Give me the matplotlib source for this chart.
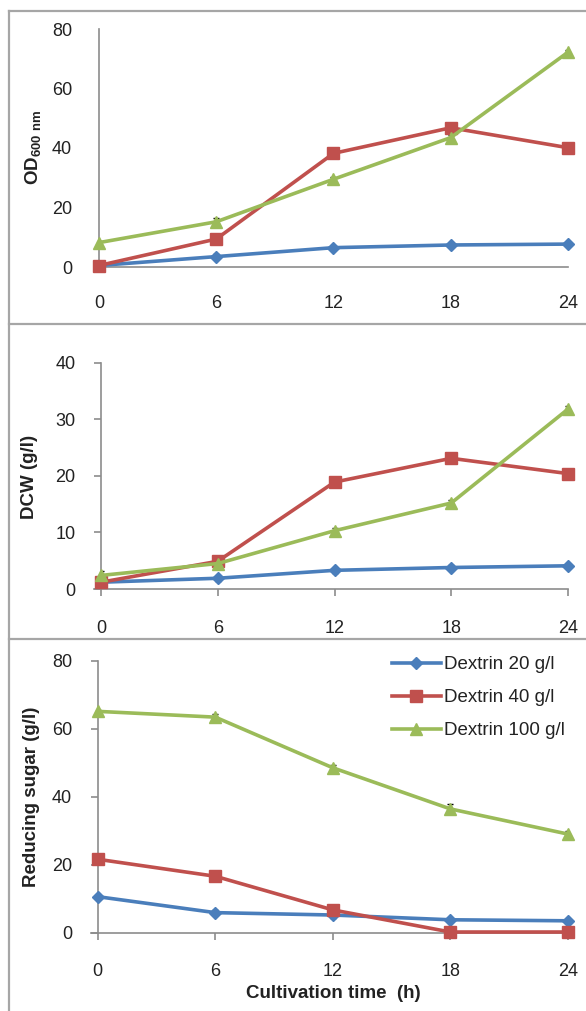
import matplotlib
matplotlib.use("Agg")
import matplotlib.pyplot as plt
from matplotlib.lines import Line2D

plt.rcParams['font.family'] = ['Liberation Sans', 'DejaVu Sans']
plt.rcParams['mathtext.fontset'] = 'custom'
plt.rcParams['mathtext.rm'] = 'Liberation Sans'
plt.rcParams['mathtext.bf'] = 'Liberation Sans:bold'

# ---------------- data ----------------
time_h = [0, 6, 12, 18, 24]
series_names = ["Dextrin 20 g/l", "Dextrin 40 g/l", "Dextrin 100 g/l"]

od_20 = [0.5, 3.5, 6.5, 7.4, 7.7]
od_40 = [0.5, 9.4, 38.2, 46.8, 40.1]
od_100 = [8.2, 15.2, 29.5, 43.5, 72.2]
od_err_20 = [0.3, 0.8, 0.5, 0.5, 0.5]
od_err_40 = [0.3, 0.8, 0.8, 0.8, 0.6]
od_err_100 = [0.5, 1.2, 0.8, 1.0, 0.8]

dcw_20 = [1.2, 1.9, 3.3, 3.8, 4.1]
dcw_40 = [1.2, 4.9, 18.9, 23.1, 20.4]
dcw_100 = [2.4, 4.5, 10.3, 15.2, 31.8]
dcw_err_20 = [0.2, 0.4, 0.4, 0.4, 0.4]
dcw_err_40 = [0.3, 0.4, 0.4, 0.4, 0.4]
dcw_err_100 = [0.7, 0.4, 0.5, 0.6, 0.6]

sugar_20 = [10.6, 5.9, 5.2, 3.8, 3.5]
sugar_40 = [21.6, 16.6, 6.7, 0.2, 0.2]
sugar_100 = [65.1, 63.4, 48.5, 36.4, 29.0]
sugar_err_20 = [0.4, 0.8, 0.8, 0.5, 0.5]
sugar_err_40 = [0.4, 0.8, 0.8, 0.3, 0.3]
sugar_err_100 = [0.5, 0.8, 0.8, 1.6, 0.8]

x_ticks = [0, 6, 12, 18, 24]
od_ticks = [0, 20, 40, 60, 80]
dcw_ticks = [0, 10, 20, 30, 40]
sugar_ticks = [0, 20, 40, 60, 80]

colors = ["#4A7EBB", "#C0504D", "#9BBB59"]
markers = ["D", "s", "^"]
msizes = [6, 8, 9]

W, H = 586, 1011
fig = plt.figure(figsize=(W / 100, H / 100), dpi=100)

def fx(px):
    return px / W

def fy(py):
    return 1 - py / H

def make_axes(left, right, y_top, y_bot):
    return fig.add_axes([fx(left), fy(y_bot), fx(right) - fx(left), fy(y_top) - fy(y_bot)])

ax1 = make_axes(99, 568, 29, 267)
ax2 = make_axes(101, 568, 362.7, 589)
ax3 = make_axes(97.7, 568, 660.7, 932.7)

panels = [
    (ax1, [od_20, od_40, od_100], [od_err_20, od_err_40, od_err_100], od_ticks, False),
    (ax2, [dcw_20, dcw_40, dcw_100], [dcw_err_20, dcw_err_40, dcw_err_100], dcw_ticks, True),
    (ax3, [sugar_20, sugar_40, sugar_100], [sugar_err_20, sugar_err_40, sugar_err_100], sugar_ticks, True),
]

spine_col = "#8C8C8C"
text_col = "#222222"
fs = 13

for ax, ys, errs, yt, ticks in panels:
    for y, e, c, m, ms, name in zip(ys, errs, colors, markers, msizes, series_names):
        ax.errorbar(time_h, y, yerr=e, fmt='none', ecolor='black', elinewidth=1,
                    capsize=2.5, capthick=1, zorder=2)
        ax.plot(time_h, y, color=c, lw=2.6, marker=m, ms=ms, mfc=c, mec=c,
                zorder=3, label=name, clip_on=False)
    ax.set_xlim(0, 24)
    ax.set_ylim(yt[0], yt[-1])
    ax.set_xticks(x_ticks)
    ax.set_yticks(yt)
    for s in ['top', 'right']:
        ax.spines[s].set_visible(False)
    for s in ['left', 'bottom']:
        ax.spines[s].set_color(spine_col)
        ax.spines[s].set_linewidth(1.2)
    if ticks:
        ax.tick_params(axis='both', direction='out', length=5, width=1.2, color=spine_col,
                       labelsize=fs, labelcolor=text_col)
        ax.tick_params(axis='x', pad=17)
        ax.tick_params(axis='y', pad=13.5)
    else:
        ax.tick_params(axis='both', length=0, labelsize=fs, labelcolor=text_col)
        ax.tick_params(axis='x', pad=20.5)
        ax.tick_params(axis='y', pad=19.5)
    ax.patch.set_alpha(0)

# extend middle/bottom x-axis line to left tick end
for ax in (ax2, ax3):
    ax.spines['bottom'].set_bounds(-0.36, 24)

# y labels
fig.text(fx(34), fy(147), r'$\mathbf{OD}_{\mathbf{600\ nm}}$', rotation=90,
         ha='center', va='center', fontsize=13.5, color=text_col)
fig.text(fx(29), fy(477), 'DCW (g/l)', rotation=90, ha='center', va='center',
         fontsize=13.5, fontweight='bold', color=text_col)
fig.text(fx(32), fy(797), 'Reducing sugar (g/l)', rotation=90, ha='center', va='center',
         fontsize=13.5, fontweight='bold', color=text_col)
fig.text(fx(333), fy(994), 'Cultivation time  (h)', ha='center', va='center',
         fontsize=13.5, fontweight='bold', color=text_col)

# legend
leg = ax3.legend(loc='upper left', bbox_to_anchor=(fx(392), fy(656)),
                 bbox_transform=fig.transFigure, frameon=False, fontsize=13.5,
                 handlelength=2.6, handletextpad=0.2, labelspacing=0.85,
                 borderpad=0, borderaxespad=0, numpoints=1)
for t in leg.get_texts():
    t.set_color(text_col)

# panel frames
frame_col = "#A6A6A6"
for yy in [11, 323.5, 639]:
    fig.add_artist(Line2D([fx(9), 1.0], [fy(yy), fy(yy)], color=frame_col, lw=1.6,
                          transform=fig.transFigure))
fig.add_artist(Line2D([fx(9), fx(9)], [fy(11), 0], color=frame_col, lw=1.6,
                      transform=fig.transFigure))

fig.savefig("out.png", dpi=100)
